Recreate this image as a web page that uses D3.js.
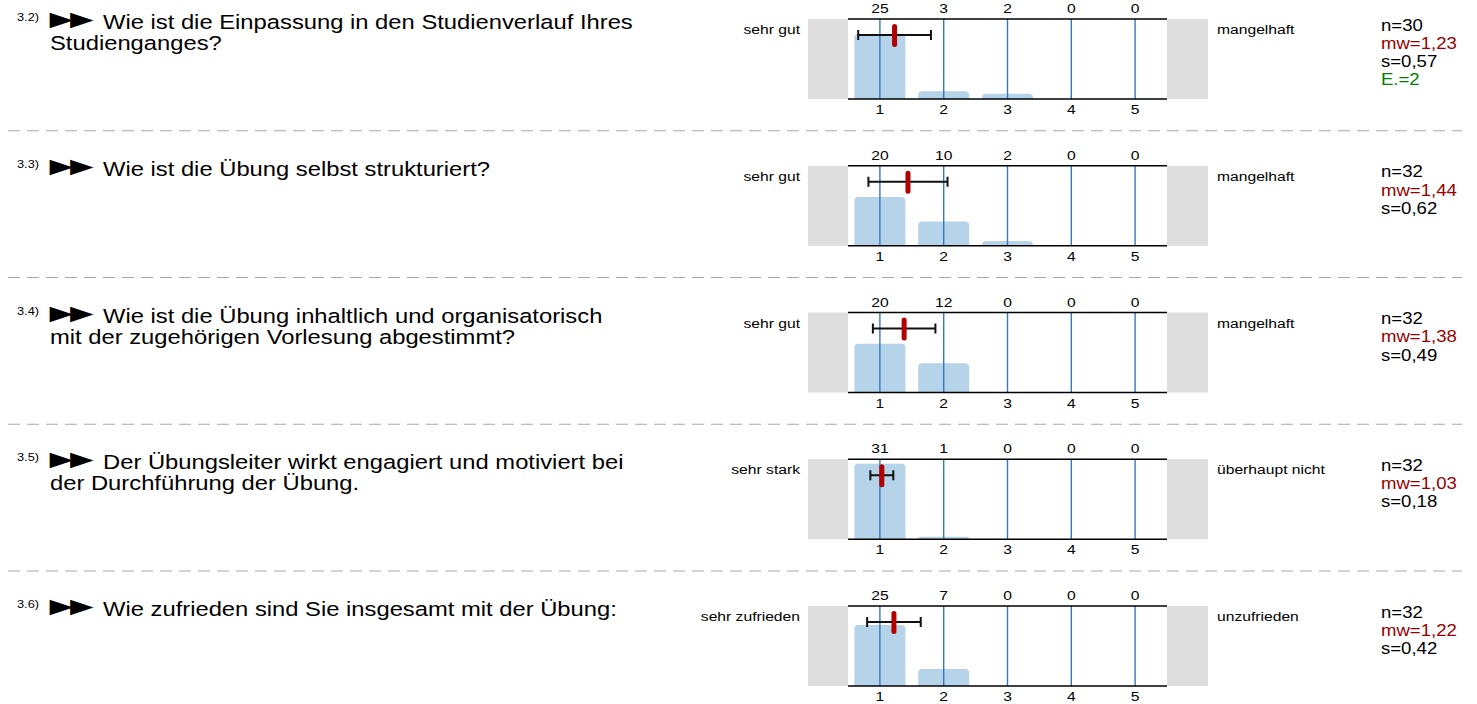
<!DOCTYPE html>
<html>
<head>
<meta charset="utf-8">
<script src="https://cdn.jsdelivr.net/npm/d3@7"></script>
<style>
  body { margin: 0; background: #fff; }
  text { font-family: "Liberation Sans", Arial, sans-serif; }
</style>
</head>
<body>
<svg id="vis"></svg>
<script>
// survey data, one entry per question
const questionNumbers = ["3.2)", "3.3)", "3.4)", "3.5)", "3.6)"];
const questionLines = [
  ["Wie ist die Einpassung in den Studienverlauf Ihres", "Studienganges?"],
  ["Wie ist die Übung selbst strukturiert?"],
  ["Wie ist die Übung inhaltlich und organisatorisch", "mit der zugehörigen Vorlesung abgestimmt?"],
  ["Der Übungsleiter wirkt engagiert und motiviert bei", "der Durchführung der Übung."],
  ["Wie zufrieden sind Sie insgesamt mit der Übung:"]
];
const leftLabels = ["sehr gut", "sehr gut", "sehr gut", "sehr stark", "sehr zufrieden"];
const rightLabels = ["mangelhaft", "mangelhaft", "mangelhaft", "überhaupt nicht", "unzufrieden"];
const scaleTicks = [1, 2, 3, 4, 5];
const counts = [
  [25, 3, 2, 0, 0],
  [20, 10, 2, 0, 0],
  [20, 12, 0, 0, 0],
  [31, 1, 0, 0, 0],
  [25, 7, 0, 0, 0]
];
const nValues = [30, 32, 32, 32, 32];
const means = [1.23, 1.44, 1.38, 1.03, 1.22];
const sds = [0.57, 0.62, 0.49, 0.18, 0.42];
const abstentions = [2, null, null, null, null];

const width = 1477, height = 704;
const svg = d3.select("#vis").attr("width", width).attr("height", height);

const rowTop0 = 19, rowStep = 146.75, plotH = 80;
const plotLeft = 848, plotRight = 1167, boxW = 40;
const SX = 1.16; // text in the source is a bit wider than the font

const x = d3.scaleLinear().domain([0.5, 5.5]).range([plotLeft, plotRight]);
const bandW = (x(2) - x(1)) * 0.8;
const comma = v => d3.format(".2f")(v).replace(".", ",");

function txt(g, xx, yy, s, size, anchor, fill, sx) {
  return g.append("text")
    .attr("transform", `translate(${xx},${yy}) scale(${sx || SX},1)`)
    .attr("text-anchor", anchor || "start")
    .style("font-size", size + "px")
    .attr("fill", fill || "#000")
    .text(s);
}

// dashed separators
const sepY = d3.range(1, 5).map(i => rowTop0 + i * rowStep - 35);
svg.selectAll("line.sep").data(sepY).join("line")
  .attr("class", "sep")
  .attr("x1", 8).attr("x2", 1462)
  .attr("y1", d => d).attr("y2", d => d)
  .attr("stroke", "#a8a8a8").attr("stroke-width", 1)
  .attr("stroke-dasharray", "12,7");

questionNumbers.forEach((num, i) => {
  const top = rowTop0 + i * rowStep;
  const bottom = top + plotH;
  const g = svg.append("g").attr("class", "row");
  const y = d3.scaleLinear().domain([0, 1]).range([bottom, top + 2]);

  // question text
  txt(g, 17, top + 2, num, 11);
  txt(g, 42, top + 9, "►►", 26, "start", "#000", 1.5).attr("letter-spacing", -12);
  questionLines[i].forEach((line, k) => {
    txt(g, k === 0 ? 103 : 50, top + 10 + k * 21, line, 20.5);
  });

  // grey end boxes
  g.append("rect").attr("x", plotLeft - boxW).attr("y", top)
    .attr("width", boxW).attr("height", plotH).attr("fill", "#dedede");
  g.append("rect").attr("x", plotRight).attr("y", top)
    .attr("width", boxW + 1).attr("height", plotH).attr("fill", "#dedede");

  // pole labels
  txt(g, 800, top + 15, leftLabels[i], 13.5, "end");
  txt(g, 1217, top + 15, rightLabels[i], 13.5, "start");

  // bars with rounded top corners
  const bars = counts[i].map((c, k) => ({ v: scaleTicks[k], f: c / nValues[i] }));
  g.selectAll("path.bar").data(bars.filter(d => d.f > 0)).join("path")
    .attr("class", "bar")
    .attr("fill", "#b5d4ea")
    .attr("d", d => {
      const x0 = x(d.v) - bandW / 2, x1 = x(d.v) + bandW / 2;
      const yt = y(d.f), h = bottom - yt, r = Math.min(4, h);
      return `M${x0},${bottom}V${yt + r}Q${x0},${yt} ${x0 + r},${yt}H${x1 - r}Q${x1},${yt} ${x1},${yt + r}V${bottom}Z`;
    });

  // blue scale lines
  g.selectAll("line.tick").data(scaleTicks).join("line")
    .attr("class", "tick")
    .attr("x1", d => x(d)).attr("x2", d => x(d))
    .attr("y1", top).attr("y2", bottom)
    .attr("stroke", "#3479bf").attr("stroke-width", 1.4);

  // top and bottom frame lines
  [top, bottom].forEach(yy => g.append("line")
    .attr("x1", plotLeft).attr("x2", plotRight)
    .attr("y1", yy).attr("y2", yy)
    .attr("stroke", "#000").attr("stroke-width", 1.5));

  // counts above, scale below
  scaleTicks.forEach((t, k) => {
    txt(g, x(t), top - 6, counts[i][k], 13.5, "middle");
    txt(g, x(t), bottom + 15, t, 13.5, "middle");
  });

  // standard deviation bar
  const ey = top + 16;
  const lo = x(means[i] - sds[i]), hi = x(means[i] + sds[i]);
  g.append("line").attr("x1", lo).attr("x2", hi).attr("y1", ey).attr("y2", ey)
    .attr("stroke", "#111").attr("stroke-width", 2);
  [lo, hi].forEach(xx => g.append("line")
    .attr("x1", xx).attr("x2", xx).attr("y1", ey - 5).attr("y2", ey + 5)
    .attr("stroke", "#111").attr("stroke-width", 2));

  // mean marker
  g.append("line")
    .attr("x1", x(means[i])).attr("x2", x(means[i]))
    .attr("y1", top + 7.5).attr("y2", top + 25.5)
    .attr("stroke", "#b30000").attr("stroke-width", 5)
    .attr("stroke-linecap", "round");

  // statistics
  const stats = [["n=" + nValues[i], "#000"], ["mw=" + comma(means[i]), "#990000"], ["s=" + comma(sds[i]), "#000"]];
  if (abstentions[i] != null) stats.push(["E.=" + abstentions[i], "#008000"]);
  stats.forEach((s, k) => txt(g, 1381, top + 11.5 + k * 18.3, s[0], 16, "start", s[1]));
});
</script>
</body>
</html>
